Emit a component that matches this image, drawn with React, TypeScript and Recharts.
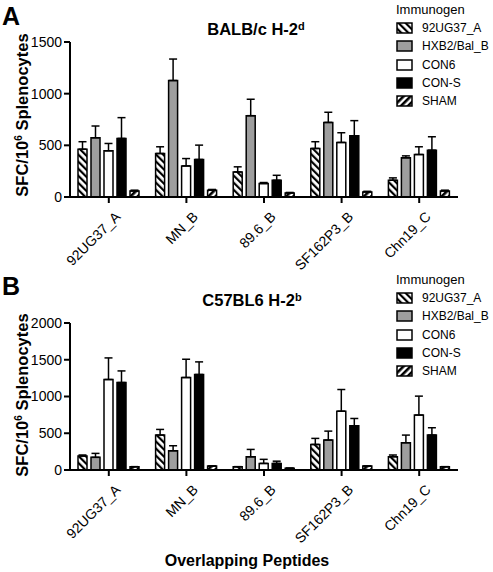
import React from "react";
import { BarChart, Bar, XAxis, YAxis, ErrorBar } from "recharts";

// categories (overlapping peptide pools)
const peptides = ["92UG37_A", "MN_B", "89.6_B", "SF162P3_B", "Chn19_C"];
const immunogens = ["92UG37_A", "HXB2/Bal_B", "CON6", "CON-S", "SHAM"];

// Panel A: BALB/c H-2d, means and upper error
const balb92 = [463, 421, 243, 470, 162];
const balb92Err = [72, 65, 49, 65, 23];
const balbHxb = [573, 1127, 787, 722, 379];
const balbHxbErr = [114, 208, 159, 98, 19];
const balbCon6 = [447, 301, 130, 528, 411];
const balbCon6Err = [71, 71, 10, 94, 75];
const balbConS = [567, 363, 162, 593, 453];
const balbConSErr = [201, 139, 48, 146, 130];
const balbSham = [58, 65, 39, 49, 58];
const balbShamErr = [8, 8, 5, 6, 8];

// Panel B: C57BL6 H-2b
const c57_92 = [190, 475, 45, 348, 181];
const c57_92Err = [14, 77, 0, 82, 23];
const c57Hxb = [172, 262, 180, 407, 371];
const c57HxbErr = [54, 68, 100, 122, 104];
const c57Con6 = [1231, 1258, 90, 801, 747];
const c57Con6Err = [294, 249, 55, 294, 258];
const c57ConS = [1190, 1299, 90, 602, 475];
const c57ConSErr = [158, 172, 30, 99, 100];
const c57Sham = [45, 54, 25, 54, 45];
const c57ShamErr = [0, 0, 0, 0, 0];

const ticksA = [0, 500, 1000, 1500];
const ticksB = [0, 500, 1000, 1500, 2000];

const FONT = "'Liberation Sans', Arial, Helvetica, sans-serif";

const fills = ["url(#hatchBack)", "#9e9e9e", "#ffffff", "#000000", "url(#hatchFwd)"];

function buildRows(series: number[][], errs: number[][]) {
  return peptides.map((p, i) => {
    const row: any = { name: p };
    series.forEach((s, k) => {
      row[`v${k}`] = s[i];
      row[`e${k}`] = [0, errs[k][i]];
    });
    return row;
  });
}

const dataA = buildRows(
  [balb92, balbHxb, balbCon6, balbConS, balbSham],
  [balb92Err, balbHxbErr, balbCon6Err, balbConSErr, balbShamErr]
);
const dataB = buildRows(
  [c57_92, c57Hxb, c57Con6, c57ConS, c57Sham],
  [c57_92Err, c57HxbErr, c57Con6Err, c57ConSErr, c57ShamErr]
);

const RotTick = (props: any) => {
  const { x, y, payload } = props;
  return (
    <g transform={`translate(${x + 9},${y + 9})`}>
      <text
        textAnchor="end"
        transform="rotate(-45)"
        fontSize={14}
        fontFamily={FONT}
        fill="#000"
        dy={5}
      >
        {payload.value}
      </text>
    </g>
  );
};

function Panel({ data, ticks, height, margin }: any) {
  return (
    <BarChart width={493} height={height} data={data} margin={margin} barSize={9} barGap={4}>
      <XAxis
        dataKey="name"
        height={70}
        tick={<RotTick />}
        interval={0}
        axisLine={{ stroke: "#000", strokeWidth: 2 }}
        tickLine={{ stroke: "#000", strokeWidth: 2 }}
        tickSize={6}
      />
      <YAxis
        width={70}
        domain={[0, ticks[ticks.length - 1]]}
        ticks={ticks}
        interval={0}
        axisLine={{ stroke: "#000", strokeWidth: 2 }}
        tickLine={{ stroke: "#000", strokeWidth: 2 }}
        tickSize={6}
        tick={{ fill: "#000", fontSize: 14, fontFamily: FONT }}
      />
      {immunogens.map((g, k) => (
        <Bar
          key={g}
          dataKey={`v${k}`}
          name={g}
          fill={fills[k]}
          stroke="#000"
          strokeWidth={1.5}
          isAnimationActive={false}
        >
          <ErrorBar dataKey={`e${k}`} width={4} stroke="#000" strokeWidth={1.5} direction="y" />
        </Bar>
      ))}
    </BarChart>
  );
}

function Legend({ top }: { top: number }) {
  return (
    <div style={{ position: "absolute", left: 396, top, fontFamily: FONT, color: "#000" }}>
      <div style={{ fontSize: 13, height: 18, lineHeight: "18px" }}>Immunogen</div>
      {immunogens.map((g, k) => (
        <div key={g} style={{ display: "flex", alignItems: "center", height: 18.3 }}>
          <svg width={17} height={12} style={{ display: "block" }}>
            <rect x={1} y={1} width={15} height={10} fill={fills[k]} stroke="#000" strokeWidth={1.5} />
          </svg>
          <span style={{ fontSize: 12, marginLeft: 9 }}>{g}</span>
        </div>
      ))}
    </div>
  );
}

function YLabel({ cy }: { cy: number }) {
  return (
    <div
      style={{
        position: "absolute",
        left: 22,
        top: cy,
        transform: "translate(-50%, -50%) rotate(-90deg)",
        whiteSpace: "nowrap",
        fontFamily: FONT,
        fontWeight: "bold",
        fontSize: 16.5,
      }}
    >
      SFC/10<span style={{ fontSize: 10, position: "relative", top: -6 }}>6</span> Splenocytes
    </div>
  );
}

function Title({ cx, cy, text, sup }: any) {
  return (
    <div
      style={{
        position: "absolute",
        left: cx,
        top: cy,
        transform: "translate(-50%, -50%)",
        whiteSpace: "nowrap",
        fontFamily: FONT,
        fontWeight: "bold",
        fontSize: 16.5,
      }}
    >
      {text}
      <span style={{ fontSize: 11, position: "relative", top: -5 }}>{sup}</span>
    </div>
  );
}

const letterStyle: React.CSSProperties = {
  position: "absolute",
  left: 2,
  fontFamily: FONT,
  fontWeight: "bold",
  fontSize: 25,
  lineHeight: 1,
};

export default function App() {
  return (
    <div style={{ position: "absolute", left: 0, top: 0, width: 493, height: 572, background: "#fff" }}>
      <svg width={0} height={0} style={{ position: "absolute" }}>
        <defs>
          <pattern id="hatchBack" patternUnits="userSpaceOnUse" width={5} height={5} patternTransform="rotate(-45)">
            <rect width={5} height={5} fill="#fff" />
            <rect x={0} y={0} width={2.2} height={5} fill="#000" />
          </pattern>
          <pattern id="hatchFwd" patternUnits="userSpaceOnUse" width={5} height={5} patternTransform="rotate(45)">
            <rect width={5} height={5} fill="#fff" />
            <rect x={0} y={0} width={2.6} height={5} fill="#000" />
          </pattern>
        </defs>
      </svg>

      <div style={{ position: "absolute", left: 0, top: 0 }}>
        <Panel data={dataA} ticks={ticksA} height={280} margin={{ top: 42, right: 35, left: 0, bottom: 13 }} />
      </div>
      <div style={{ position: "absolute", left: 0, top: 280 }}>
        <Panel data={dataB} ticks={ticksB} height={292} margin={{ top: 43, right: 35, left: 0, bottom: 32 }} />
      </div>

      <div style={{ ...letterStyle, top: 4 }}>A</div>
      <div style={{ ...letterStyle, top: 274 }}>B</div>

      <Title cx={256} cy={29} text="BALB/c H-2" sup="d" />
      <Title cx={252} cy={300} text="C57BL6 H-2" sup="b" />

      <YLabel cy={115} />
      <YLabel cy={395} />

      <Legend top={1} />
      <Legend top={271} />

      <div
        style={{
          position: "absolute",
          left: 247,
          top: 561,
          transform: "translate(-50%, -50%)",
          whiteSpace: "nowrap",
          fontFamily: FONT,
          fontWeight: "bold",
          fontSize: 16,
        }}
      >
        Overlapping Peptides
      </div>
    </div>
  );
}
